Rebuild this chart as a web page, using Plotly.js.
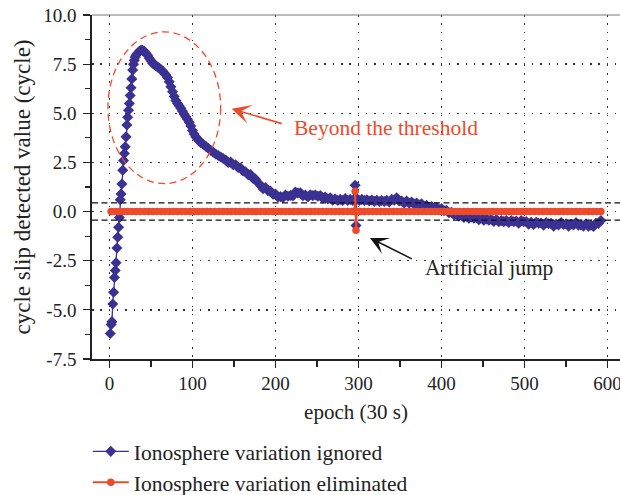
<!DOCTYPE html>
<html>
<head>
<meta charset="utf-8">
<script src="https://cdn.plot.ly/plotly-3.0.1.min.js"></script>
<style>
  html, body { margin: 0; padding: 0; background: #fff; }
  #chart { width: 620px; height: 495px; }
</style>
</head>
<body>
<div id="chart"></div>
<script>
// ---- data ----
const blueName = 'Ionosphere variation ignored';
const redName = 'Ionosphere variation eliminated';

const blueEpoch = [
  1,2,3,4,5,6,7,8,9,10,11,12,13,14,15,16,17,18,19,20,
  21,22,23,24,25,26,27,28,29,30,31,32,34,36,38,40,42,44,46,48,
  50,52,54,56,58,60,62,64,66,68,70,72,74,76,78,80,82,84,86,88,
  90,92,94,96,98,100,102,104,106,108,110,113,116,119,122,125,128,131,134,137,
  140,143,146,149,152,155,158,161,164,167,170,173,176,179,182,185,188,191,194,197,
  200,203,206,209,212,215,218,221,224,227,230,233,236,239,242,245,248,251,254,257,
  260,263,266,269,272,275,278,281,284,287,290,293,296,297,298,301,304,307,310,313,
  316,319,322,325,328,331,334,337,340,343,346,349,352,355,358,361,364,367,370,373,
  376,379,382,385,388,391,394,397,400,403,406,409,412,415,418,421,424,427,430,433,
  436,439,442,445,448,451,454,457,460,463,466,469,472,475,478,481,484,487,490,493,
  496,499,502,505,508,511,514,517,520,523,526,529,532,535,538,541,544,547,550,553,
  556,559,562,565,568,571,574,577,580,583,586,589,592
];
const blueValue = [
  -6.2,-5.75,-5.6,-4.7,-4.1,-3.35,-3.0,-2.6,-1.85,-1.3,-0.8,-0.3,0.6,0.9,1.4,2.1,2.6,2.95,3.3,3.8,
  4.4,4.8,5.15,5.5,5.9,6.3,6.75,7.2,7.5,7.7,7.85,7.95,8.05,8.15,8.22,8.2,8.15,8.05,7.95,7.8,
  7.68,7.55,7.48,7.42,7.35,7.3,7.22,7.15,7.05,6.95,6.82,6.6,6.35,6.1,5.85,5.65,5.5,5.38,5.25,5.1,
  4.95,4.82,4.7,4.55,4.35,4.12,3.95,3.8,3.7,3.6,3.5,3.42,3.32,3.22,3.12,3.02,2.93,2.85,2.78,2.7,
  2.62,2.5,2.52,2.38,2.38,2.24,2.22,2.06,2.02,1.88,1.88,1.68,1.65,1.46,1.34,1.16,1.22,1.06,1.04,0.88,
  0.89,0.74,0.76,0.71,0.84,0.78,0.82,0.8,0.99,0.94,0.96,0.81,0.84,0.74,0.86,0.81,0.84,0.78,0.82,0.68,
  0.74,0.64,0.7,0.58,0.64,0.56,0.62,0.56,0.66,0.56,0.62,0.56,1.34,-0.71,0.66,0.56,0.62,0.56,0.6,0.54,
  0.59,0.52,0.58,0.51,0.56,0.51,0.58,0.49,0.62,0.58,0.7,0.54,0.54,0.44,0.54,0.42,0.49,0.38,0.44,0.34,
  0.4,0.26,0.32,0.21,0.26,0.16,0.22,0.11,0.16,0.04,0.06,-0.06,-0.04,-0.16,-0.14,-0.24,-0.18,-0.3,-0.24,-0.34,
  -0.28,-0.34,-0.31,-0.42,-0.32,-0.44,-0.38,-0.44,-0.4,-0.5,-0.41,-0.52,-0.46,-0.51,-0.46,-0.56,-0.46,-0.52,-0.48,-0.59,
  -0.46,-0.52,-0.51,-0.64,-0.54,-0.66,-0.54,-0.59,-0.58,-0.7,-0.56,-0.62,-0.6,-0.74,-0.64,-0.68,-0.56,-0.66,-0.62,-0.74,
  -0.64,-0.68,-0.56,-0.7,-0.68,-0.74,-0.62,-0.74,-0.7,-0.76,-0.6,-0.6,-0.46
];

const redEpoch = [
  2,7,12,17,22,27,32,37,42,47,52,57,62,67,72,77,82,87,92,97,
  102,107,112,117,122,127,132,137,142,147,152,157,162,167,172,177,182,187,192,197,
  202,207,212,217,222,227,232,237,242,247,252,257,262,267,272,277,282,287,292,
  295,296,297,298,
  302,307,312,317,322,327,332,337,342,347,352,357,362,367,372,377,382,387,392,397,
  402,407,412,417,422,427,432,437,442,447,452,457,462,467,472,477,482,487,492,497,
  502,507,512,517,522,527,532,537,542,547,552,557,562,567,572,577,582,587,592
];
const redValue = [
  0,0,0,0,0,0,0,0,0,0,0,0,0,0,0,0,0,0,0,0,
  0,0,0,0,0,0,0,0,0,0,0,0,0,0,0,0,0,0,0,0,
  0,0,0,0,0,0,0,0,0,0,0,0,0,0,0,0,0,0,0,
  0,1.03,-0.95,0,
  0,0,0,0,0,0,0,0,0,0,0,0,0,0,0,0,0,0,0,0,
  0,0,0,0,0,0,0,0,0,0,0,0,0,0,0,0,0,0,0,0,
  0,0,0,0,0,0,0,0,0,0,0,0,0,0,0,0,0,0,0
];

const threshold = 0.44;

const xTickVals = [0, 100, 200, 300, 400, 500, 600];
const xTickText = ['0', '100', '200', '300', '400', '500', '600'];
const yTickVals = [-7.5, -5, -2.5, 0, 2.5, 5, 7.5, 10];
const yTickText = ['-7.5', '-5.0', '-2.5', '0.0', '2.5', '5.0', '7.5', '10.0'];

const xTitle = 'epoch (30 s)';
const yTitle = 'cycle slip detected value (cycle)';
const noteThreshold = 'Beyond the threshold';
const noteJump = 'Artificial jump';

// ---- styles ----
const BLUE = '#3a3192';
const RED = '#ee4a2a';
const FONT = 'Liberation Serif, Times New Roman, serif';
const INK = '#222';

const traces = [
  {
    x: blueEpoch, y: blueValue, name: blueName, type: 'scatter', mode: 'lines+markers',
    line: { color: BLUE, width: 1.3 },
    marker: { symbol: 'diamond', size: 8.5, color: BLUE }
  },
  {
    x: redEpoch, y: redValue, name: redName, type: 'scatter', mode: 'lines+markers',
    line: { color: RED, width: 2 },
    marker: { symbol: 'circle', size: 7.5, color: RED }
  }
];

const gridDash = '1.5px,6.8px';

const layout = {
  width: 620, height: 495,
  margin: { l: 92, r: 0, t: 15, b: 136, autoexpand: false },
  paper_bgcolor: '#fff', plot_bgcolor: '#fff',
  font: { family: FONT, color: INK },
  showlegend: true,
  hovermode: false,
  xaxis: {
    range: [-21, 615],
    automargin: false,
    tickmode: 'array', tickvals: xTickVals, ticktext: xTickText,
    ticks: 'outside', ticklen: 7, tickwidth: 1.2, tickcolor: INK,
    ticklabeloverflow: 'allow',
    showline: true, linecolor: INK, linewidth: 1.5,
    showgrid: true, gridcolor: '#333', gridwidth: 1.3, griddash: gridDash,
    zeroline: false,
    minor: { tick0: 0, dtick: 50, ticks: 'outside', ticklen: 6, tickwidth: 1.2, tickcolor: INK, showgrid: false },
    tickfont: { family: FONT, size: 19, color: INK },
    title: { text: xTitle, font: { family: FONT, size: 21, color: INK }, standoff: 11 }
  },
  yaxis: {
    range: [-7.5, 10],
    automargin: false,
    tickmode: 'array', tickvals: yTickVals, ticktext: yTickText,
    ticks: 'outside', ticklen: 7, tickwidth: 1.2, tickcolor: INK,
    showline: true, linecolor: INK, linewidth: 1.8,
    showgrid: true, gridcolor: '#333', gridwidth: 1.3, griddash: gridDash,
    zeroline: false,
    minor: { tick0: 0, dtick: 1.25, ticks: 'outside', ticklen: 5, tickwidth: 1.2, tickcolor: INK, showgrid: false },
    tickfont: { family: FONT, size: 19, color: INK },
    ticklabelstandoff: 3,
    title: { text: yTitle, font: { family: FONT, size: 23, color: INK }, standoff: 6 }
  },
  legend: {
    x: -0.008, xanchor: 'left', y: -0.209, yanchor: 'top',
    orientation: 'v', bgcolor: 'rgba(0,0,0,0)', itemwidth: 36,
    font: { family: FONT, size: 21.5, color: INK }
  },
  shapes: [
    { type: 'line', xref: 'paper', yref: 'paper', x0: 0, x1: 1, y0: 1, y1: 1,
      line: { color: '#777', width: 1.2 } },
    { type: 'line', xref: 'paper', yref: 'y', x0: 0, x1: 1, y0: threshold, y1: threshold,
      line: { color: '#111', width: 1.2, dash: '6px,3.5px' }, layer: 'above' },
    { type: 'line', xref: 'paper', yref: 'y', x0: 0, x1: 1, y0: -threshold, y1: -threshold,
      line: { color: '#111', width: 1.2, dash: '6px,3.5px' }, layer: 'above' },
    { type: 'circle', xref: 'x', yref: 'y', x0: -1.8, x1: 134, y0: 1.42, y1: 9.14,
      line: { color: RED, width: 1.3, dash: '7px,4.5px' }, layer: 'above' }
  ],
  annotations: [
    { x: 147.2, y: 5.23, xref: 'x', yref: 'y', text: '', showarrow: true,
      ax: 51.6, ay: 15.3, arrowcolor: RED, arrowwidth: 1.6, arrowhead: 3, arrowsize: 2 },
    { x: 219.5, y: 4.26, xref: 'x', yref: 'y', text: noteThreshold, showarrow: false,
      xanchor: 'left', yanchor: 'middle', font: { family: FONT, size: 21.5, color: RED } },
    { x: 313.9, y: -1.34, xref: 'x', yref: 'y', text: '', showarrow: true,
      ax: 43.3, ay: 21.7, arrowcolor: '#111', arrowwidth: 1.5, arrowhead: 3, arrowsize: 2 },
    { x: 377.7, y: -2.89, xref: 'x', yref: 'y', text: noteJump, showarrow: false,
      xanchor: 'left', yanchor: 'middle', font: { family: FONT, size: 21.5, color: INK } }
  ]
};

Plotly.newPlot('chart', traces, layout, { staticPlot: true, displayModeBar: false });
</script>
</body>
</html>
